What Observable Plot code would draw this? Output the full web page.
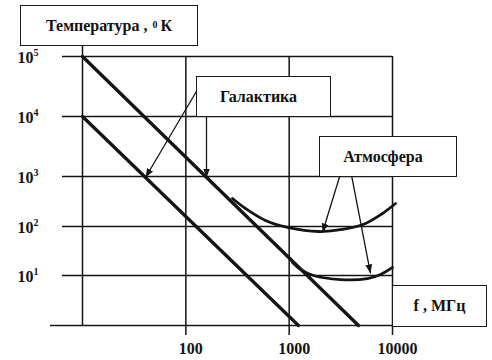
<!DOCTYPE html>
<html><head><meta charset="utf-8">
<script src="https://cdn.jsdelivr.net/npm/d3@7"></script>
<script src="https://cdn.jsdelivr.net/npm/@observablehq/plot@0.6"></script>
<style>
body{margin:0;background:#fff;}
#wrap{position:relative;width:492px;height:360px;overflow:hidden;background:#fff;}
.box{position:absolute;box-sizing:border-box;border:1.6px solid #1a1a1a;background:#fff;display:flex;align-items:center;justify-content:center;font-family:"Liberation Serif","Times New Roman",serif;font-weight:bold;font-size:16px;color:#111;white-space:nowrap;}
.box sup{font-size:10px;position:relative;top:-1px;margin:0 3px 0 5px;}
</style></head><body><div id="wrap"></div>
<script>
// ---- data ----
const xTicks = [100, 1000, 10000];
const xTickLabels = ["100", "1000", "10000"];
const yGrid = [10, 100, 1000, 10000, 100000];
const yExponents = ["1", "2", "3", "4", "5"];

// Galactic noise temperature (two straight boundary lines)
const galaxyUpperF = [10, 4690];
const galaxyUpperT = [100000, 1];
const galaxyLowerF = [10, 1230];
const galaxyLowerT = [10000, 1];

// Atmospheric noise temperature (two curves)
const atmUpperF = [283, 378, 590, 986, 1923, 3280, 5480, 8000, 10700];
const atmUpperT = [363, 229, 132, 95, 79, 87, 115, 182, 288];
const atmLowerF = [1077, 1288, 1722, 3140, 5730, 7660, 10000];
const atmLowerT = [18.4, 13.3, 10, 8.3, 8.7, 10.5, 14.6];

// Annotation arrows (from label box to curve)
const arrowF1 = [138.7, 158.5, 3210, 3930];
const arrowT1 = [34100, 12600, 1259, 1259];
const arrowF2 = [40.7, 158.5, 2100, 6120];
const arrowT2 = [955, 955, 75.5, 11];

// ---- tables ----
const zip = (F, T) => F.map((f, i) => ({f, t: T[i]}));
const galaxyUpper = zip(galaxyUpperF, galaxyUpperT);
const galaxyLower = zip(galaxyLowerF, galaxyLowerT);
const atmUpper = zip(atmUpperF, atmUpperT);
const atmLower = zip(atmLowerF, atmLowerT);
const arrows = arrowF1.map((f, i) => ({f1: f, t1: arrowT1[i], f2: arrowF2[i], t2: arrowT2[i]}));
const yLabels = yGrid.map((v, i) => ({v, e: yExponents[i]}));
const xLabels = xTicks.map((v, i) => ({v, s: xTickLabels[i]}));

const ink = "#141414";
const serif = "Liberation Serif, Times New Roman, serif";

const svg = Plot.plot({
  width: 492, height: 360,
  marginLeft: 82, marginRight: 100, marginTop: 56, marginBottom: 35,
  style: {background: "#fff", overflow: "visible"},
  x: {type: "log", domain: [10, 10000], axis: null},
  y: {type: "log", domain: [1, 10, 100, 1000, 10000, 100000], range: [325, 275, 226, 176, 116, 56], axis: null},
  marks: [
    Plot.ruleY(yGrid, {stroke: ink, strokeWidth: 1.5, insetLeft: -20}),
    Plot.ruleY([1], {stroke: ink, strokeWidth: 1.6, insetLeft: -32}),
    Plot.ruleX(xTicks, {stroke: ink, strokeWidth: 1.5, insetBottom: -10}),
    Plot.ruleX([10], {stroke: ink, strokeWidth: 1.5, insetTop: -11}),
    Plot.line(galaxyUpper, {x: "f", y: "t", stroke: ink, strokeWidth: 3.3}),
    Plot.line(galaxyLower, {x: "f", y: "t", stroke: ink, strokeWidth: 3.3}),
    Plot.line(atmUpper, {x: "f", y: "t", stroke: ink, strokeWidth: 2.8, curve: "catmull-rom"}),
    Plot.line(atmLower, {x: "f", y: "t", stroke: ink, strokeWidth: 2.8, curve: "catmull-rom"}),
    Plot.link(arrows, {x1: "f1", y1: "t1", x2: "f2", y2: "t2", stroke: ink, strokeWidth: 1.3, markerEnd: "arrow"}),
    Plot.text(yLabels, {y: "v", text: () => "10", frameAnchor: "left", dx: -65, dy: 1, textAnchor: "start",
      fontSize: 16, fontWeight: "bold", fontFamily: serif, fill: ink}),
    Plot.text(yLabels, {y: "v", text: "e", frameAnchor: "left", dx: -49, dy: -4, textAnchor: "start",
      fontSize: 10, fontWeight: "bold", fontFamily: serif, fill: ink}),
    Plot.text(xLabels, {x: "v", text: "s", frameAnchor: "bottom", dy: 28, dx: 5,
      fontSize: 16, fontWeight: "bold", fontFamily: serif, fill: ink})
  ]
});

// filled arrowheads
svg.querySelectorAll("marker").forEach(m => {
  m.setAttribute("viewBox", "0 -5 10 10");
  m.setAttribute("refX", "10");
  m.setAttribute("refY", "0");
  m.setAttribute("markerUnits", "userSpaceOnUse");
  m.setAttribute("markerWidth", "9");
  m.setAttribute("markerHeight", "9");
  m.setAttribute("fill", ink);
  m.setAttribute("stroke", "none");
  m.innerHTML = '<path d="M0,-3.8L10,0L0,3.8Z"></path>';
});

const wrap = document.getElementById("wrap");
svg.style.position = "absolute"; svg.style.left = "0"; svg.style.top = "0";
wrap.appendChild(svg);

function box(html, left, top, w, h, pad) {
  const d = document.createElement("div");
  d.className = "box";
  d.style.left = left + "px"; d.style.top = top + "px";
  d.style.width = w + "px"; d.style.height = h + "px";
  if (pad) d.style.paddingRight = pad + "px";
  d.innerHTML = html;
  wrap.appendChild(d);
}
box("Температура ,<sup>0</sup>К", 20, 5, 178, 41, 0);
box("Галактика", 196, 76, 135, 41, 10);
box("Атмосфера", 319, 136, 138, 41, 10);
box("f , МГц", 392, 285, 95, 42, 0);
</script></body></html>
